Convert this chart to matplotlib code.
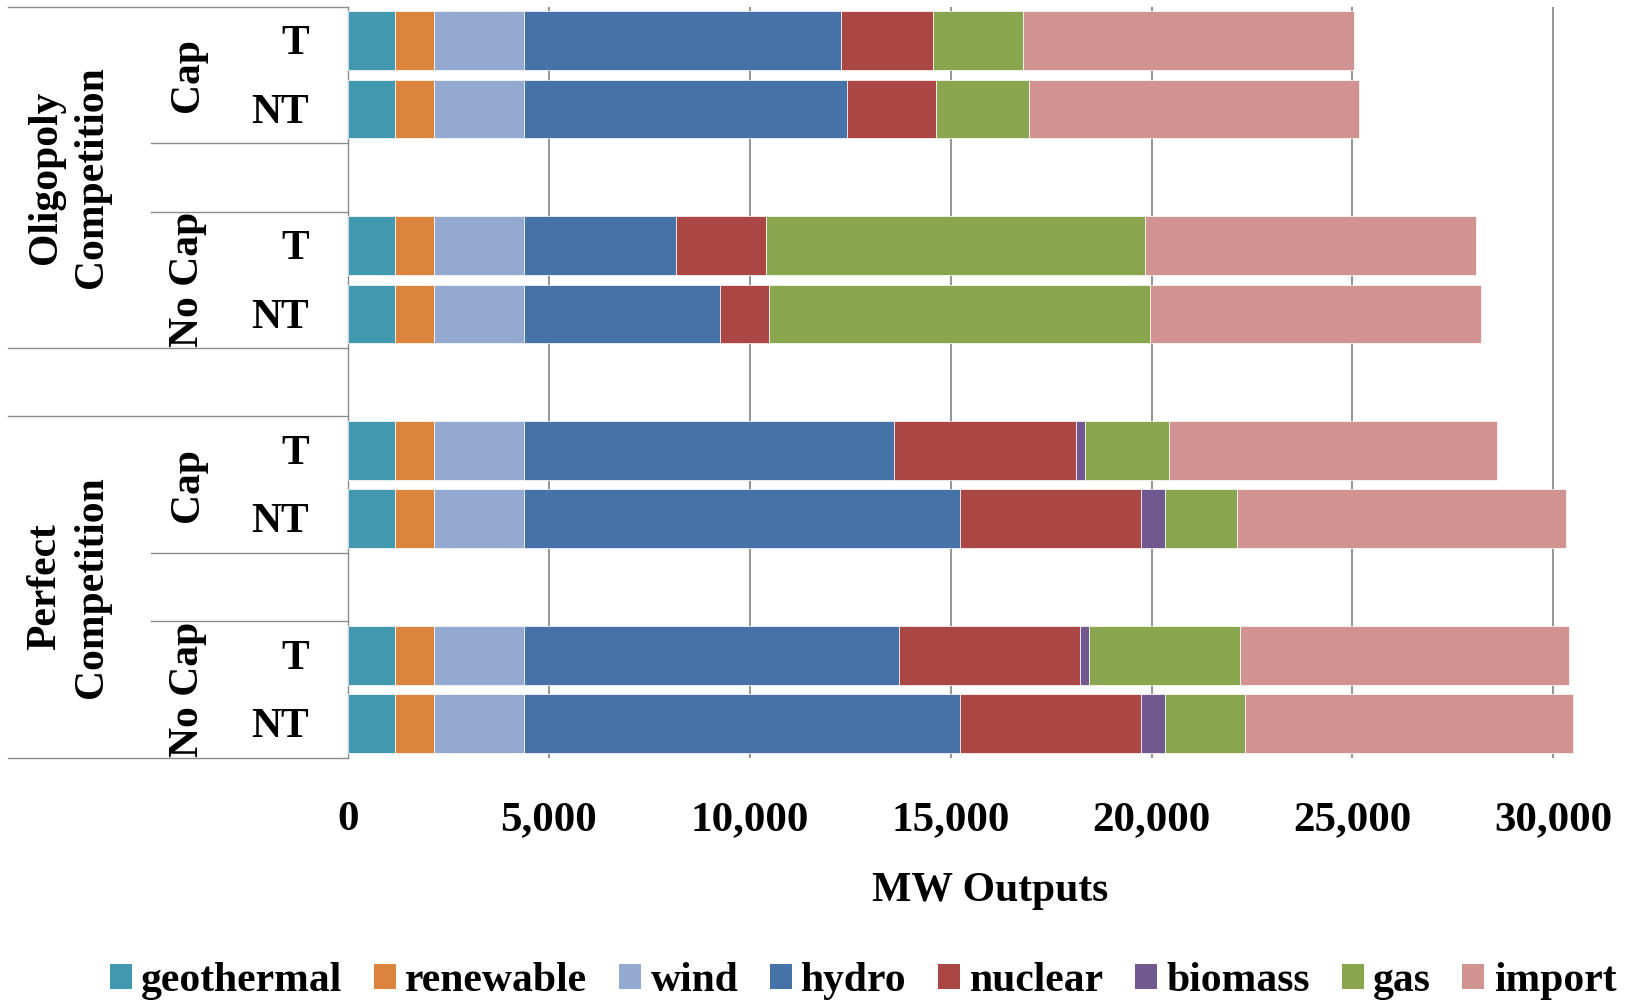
import matplotlib
matplotlib.use("Agg")
import matplotlib.pyplot as plt
import matplotlib.transforms as mtransforms
from matplotlib.lines import Line2D
from matplotlib.patches import Patch
from matplotlib.ticker import FuncFormatter

plt.rcParams["font.family"] = ["Liberation Serif", "DejaVu Serif"]
plt.rcParams["font.weight"] = "bold"

# Scenario hierarchy (top to bottom)
markets = ["Oligopoly\nCompetition", "Perfect\nCompetition"]
caps = ["Cap", "No Cap"]
taxes = ["T", "NT"]

# Generation mix per scenario, MW (order: Oligopoly Cap T, NT, No Cap T, NT,
# Perfect Cap T, NT, No Cap T, NT)
sources = ["geothermal", "renewable", "wind", "hydro", "nuclear", "biomass", "gas", "import"]
geothermal = [1180, 1180, 1180, 1180, 1180, 1180, 1180, 1180]
renewable = [965, 965, 965, 965, 965, 965, 965, 965]
wind = [2245, 2245, 2245, 2245, 2245, 2245, 2245, 2245]
hydro = [7878, 8022, 3766, 4878, 9200, 10849, 9313, 10849]
nuclear = [2290, 2233, 2256, 1200, 4520, 4507, 4507, 4507]
biomass = [0, 0, 0, 0, 226, 579, 240, 579]
gas = [2251, 2297, 9419, 9496, 2090, 1814, 3764, 1990]
imports = [8231, 8231, 8249, 8241, 8171, 8183, 8183, 8171]
series = [geothermal, renewable, wind, hydro, nuclear, biomass, gas, imports]
colors = ["#4198AF", "#DB843D", "#93A9CF", "#4572A7", "#AA4643", "#71588F", "#89A54E", "#D19392"]

xticks = [0, 5000, 10000, 15000, 20000, 25000, 30000]

W, H = 1633, 1002
fig = plt.figure(figsize=(W / 100, H / 100), dpi=100)
ax_left, ax_right = 348 / W, 1632 / W
ax_top, ax_bot = 1 - 6.7 / H, 1 - 757.7 / H
ax = fig.add_axes([ax_left, ax_bot, ax_right - ax_left, ax_top - ax_bot])

# Row slot for each scenario: blank slots separate cap groups and markets
slots = []
row_labels = []
for m in range(len(markets)):
    for c in range(len(caps)):
        for t in range(len(taxes)):
            slots.append(6 * m + 3 * c + t)
            row_labels.append(taxes[t])

left = [0.0] * len(slots)
for vals, col in zip(series, colors):
    ax.barh(slots, vals, left=left, height=0.86, color=col,
            edgecolor="white", linewidth=0.5, zorder=3)
    left = [l + v for l, v in zip(left, vals)]

ax.set_xlim(0, 31960)
ax.set_ylim(10.5, -0.5)
ax.set_yticks([])
ax.set_xticks(xticks)
ax.xaxis.set_major_formatter(FuncFormatter(lambda v, p: f"{int(v):,}"))
ax.tick_params(axis="x", length=0, pad=31, labelsize=31)
for lab in ax.get_xticklabels():
    lab.set_fontweight("bold")
ax.xaxis.grid(True, color="#8c8c8c", linewidth=1.3, zorder=0)
ax.set_axisbelow(True)
for s in ["top", "right", "bottom"]:
    ax.spines[s].set_visible(False)
ax.spines["left"].set_color("#8c8c8c")
ax.spines["left"].set_linewidth(1.0)

ax.set_xlabel("MW Outputs", fontsize=30, fontweight="bold")
ax.xaxis.set_label_coords(0.5, -0.152)

# Category table on the left
tr = mtransforms.blended_transform_factory(fig.transFigure, ax.transData)
line_kw = dict(color="#8c8c8c", linewidth=1.0, transform=tr, clip_on=False)
for y in [-0.5, 4.5, 5.5, 10.5]:
    ax.add_line(Line2D([8 / W, ax_left], [y, y], **line_kw))
for y in [1.5, 2.5, 7.5, 8.5]:
    ax.add_line(Line2D([151 / W, ax_left], [y, y], **line_kw))

for s, lab in zip(slots, row_labels):
    ax.text(309 / W, s + 0.2, lab, transform=tr, ha="right", va="baseline",
            fontsize=30, fontweight="bold")
for m in range(len(markets)):
    for c in range(len(caps)):
        ax.text(188 / W, 6 * m + 3 * c + 0.5, caps[c], transform=tr, rotation=90,
                ha="center", va="center", fontsize=30, fontweight="bold")
    ax.text(69 / W, 6 * m + 2, markets[m], transform=tr, rotation=90,
            ha="center", va="center", fontsize=30, fontweight="bold",
            linespacing=1.3, multialignment="center")

handles = [Patch(facecolor=c, edgecolor="none") for c in colors]
fig.legend(handles, sources, loc="center", bbox_to_anchor=(863 / W, 1 - 981 / H),
           ncol=8, frameon=False, handlelength=0.53, handleheight=0.53,
           handletextpad=0.23, columnspacing=0.75, borderpad=0, borderaxespad=0,
           prop={"weight": "bold", "size": 30})

fig.savefig("out.png", dpi=100)
